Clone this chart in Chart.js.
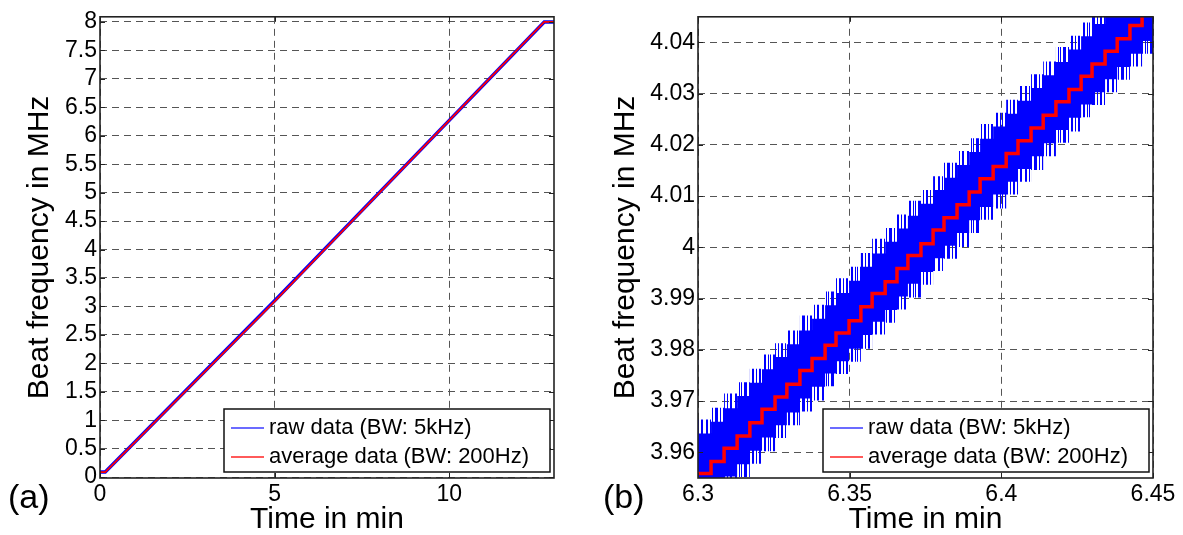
<!DOCTYPE html>
<html>
<head>
<meta charset="utf-8">
<script src="https://cdn.jsdelivr.net/npm/chart.js@4.4.0/dist/chart.umd.min.js"></script>
<style>
body { margin: 0; background: #fff; width: 1183px; height: 535px; overflow: hidden; position: relative; font-family: 'Liberation Sans', Arial, sans-serif; }
#caixaA { position: absolute; left: 0; top: 0; width: 580px; height: 535px; }
#caixaB { position: absolute; left: 590px; top: 0; width: 593px; height: 535px; }
.rotulo { position: absolute; top: 479px; font-size: 34px; line-height: 1; color: #000; }
</style>
</head>
<body>
<div id="caixaA"><canvas id="graficoA" width="580" height="535"></canvas></div>
<div id="caixaB"><canvas id="graficoB" width="593" height="535"></canvas></div>
<div class="rotulo" style="left:8px">(a)</div>
<div class="rotulo" style="left:603px">(b)</div>
<script>
// (a) rampa completa
const tempoA = [0, 0.15, 5, 10, 12.72, 13];
const brutoA = [0.09, 0.09, 3.1, 6.27, 8.0, 8.0];
const mediaA = [0.09, 0.09, 3.09, 6.27, 8.0, 8.0];
const ticksXA = [0, 5, 10];
const ticksYA = [0, 0.5, 1, 1.5, 2, 2.5, 3, 3.5, 4, 4.5, 5, 5.5, 6, 6.5, 7, 7.5, 8];

// (b) detalhe - degraus da media e faixa do dado bruto
const tempoB = [6.3000, 6.3043, 6.3086, 6.3129, 6.3171, 6.3211, 6.3254, 6.3293, 6.3336, 6.3376,
    6.3419, 6.3455, 6.3498, 6.3537, 6.3574, 6.3617, 6.3656, 6.3692, 6.3735, 6.3775,
    6.3811, 6.3854, 6.3894, 6.3930, 6.3973, 6.4016, 6.4055, 6.4098, 6.4138, 6.4180,
    6.4223, 6.4263, 6.4299, 6.4342, 6.4382, 6.4424, 6.4464, 6.4500];
const mediaB = [3.9559, 3.9582, 3.9608, 3.9632, 3.9658, 3.9684, 3.9708, 3.9733, 3.9760, 3.9783,
    3.9809, 3.9833, 3.9857, 3.9884, 3.9910, 3.9933, 3.9959, 3.9984, 4.0007, 4.0034,
    4.0058, 4.0083, 4.0108, 4.0134, 4.0158, 4.0183, 4.0208, 4.0233, 4.0258, 4.0284,
    4.0308, 4.0334, 4.0358, 4.0383, 4.0407, 4.0433, 4.0458, 4.0458];
// faixa densa do dado bruto
const brutoSup = [3.9637, 3.9660, 3.9686, 3.9710, 3.9736, 3.9762, 3.9786, 3.9811, 3.9838, 3.9861,
    3.9887, 3.9911, 3.9935, 3.9962, 3.9988, 4.0011, 4.0037, 4.0062, 4.0085, 4.0112,
    4.0136, 4.0161, 4.0186, 4.0212, 4.0236, 4.0261, 4.0286, 4.0311, 4.0336, 4.0362,
    4.0386, 4.0412, 4.0436, 4.0461, 4.0485, 4.0511, 4.0536, 4.0536];
const brutoInf = [3.9504, 3.9527, 3.9553, 3.9577, 3.9603, 3.9629, 3.9653, 3.9678, 3.9705, 3.9728,
    3.9754, 3.9778, 3.9802, 3.9829, 3.9855, 3.9878, 3.9904, 3.9929, 3.9952, 3.9979,
    4.0003, 4.0028, 4.0053, 4.0079, 4.0103, 4.0128, 4.0153, 4.0178, 4.0203, 4.0229,
    4.0253, 4.0279, 4.0303, 4.0328, 4.0352, 4.0378, 4.0403, 4.0403];
// picos isolados do dado bruto (fora da faixa densa)
const picoSup = [3.9664, 3.9687, 3.9715, 3.9737, 3.9763, 3.9791, 3.9813, 3.9838, 3.9867, 3.9888,
    3.9914, 3.9940, 3.9962, 3.9989, 4.0017, 4.0038, 4.0064, 4.0091, 4.0112, 4.0139,
    4.0165, 4.0188, 4.0213, 4.0241, 4.0263, 4.0288, 4.0315, 4.0338, 4.0363, 4.0391,
    4.0413, 4.0439, 4.0465, 4.0488, 4.0512, 4.0540, 4.0563, 4.0563];
const picoInf = [3.9479, 3.9502, 3.9526, 3.9552, 3.9578, 3.9602, 3.9628, 3.9653, 3.9680, 3.9701,
    3.9729, 3.9753, 3.9777, 3.9802, 3.9830, 3.9853, 3.9879, 3.9902, 3.9927, 3.9954,
    3.9978, 4.0001, 4.0028, 4.0054, 4.0076, 4.0103, 4.0128, 4.0151, 4.0178, 4.0204,
    4.0226, 4.0254, 4.0278, 4.0303, 4.0327, 4.0353, 4.0378, 4.0378];
const ticksXB = [6.3, 6.35, 6.4, 6.45];
const ticksYB = [3.96, 3.97, 3.98, 3.99, 4, 4.01, 4.02, 4.03, 4.04];

const rotuloBruto = 'raw data (BW: 5kHz)';
const rotuloMedia = 'average data (BW: 200Hz)';

Chart.defaults.font.family = "'Liberation Sans', Arial, sans-serif";
Chart.defaults.color = '#000';

function pontos(xs, ys) {
    return xs.map((x, i) => ({ x: x, y: ys[i] }));
}

// listras verticais para imitar os picos do sinal bruto
function listras() {
    const c = document.createElement('canvas');
    c.width = 29; c.height = 8;
    const g = c.getContext('2d');
    g.fillStyle = '#0000ff';
    [[0, 2], [4, 1], [6, 1], [9, 3], [14, 1], [17, 2], [21, 1], [24, 2]].forEach(([x, w]) => g.fillRect(x, 0, w, 8));
    return g.createPattern(c, 'repeat');
}

// caixa do eixo + marcas para dentro (estilo matlab)
const moldura = {
    id: 'moldura',
    afterDatasetsDraw(chart) {
        const { ctx, chartArea: a, scales } = chart;
        ctx.save();
        ctx.strokeStyle = '#222';
        ctx.lineWidth = 1;
        ctx.beginPath();
        scales.x.ticks.forEach(t => {
            const px = Math.round(scales.x.getPixelForValue(t.value)) + 0.5;
            ctx.moveTo(px, a.bottom); ctx.lineTo(px, a.bottom - 5);
            ctx.moveTo(px, a.top); ctx.lineTo(px, a.top + 5);
        });
        scales.y.ticks.forEach(t => {
            const py = Math.round(scales.y.getPixelForValue(t.value)) + 0.5;
            ctx.moveTo(a.left, py); ctx.lineTo(a.left + 5, py);
            ctx.moveTo(a.right, py); ctx.lineTo(a.right - 5, py);
        });
        ctx.stroke();
        ctx.lineWidth = 1.6;
        ctx.strokeRect(a.left, a.top, a.right - a.left, a.bottom - a.top);
        ctx.restore();
    },
    afterDraw(chart) {
        // legenda dentro do grafico, canto inferior direito
        const { ctx, chartArea: a } = chart;
        const itens = chart.data.datasets.filter(d => d.label);
        const larg = 326, alt = 63;
        const x0 = a.right - 4 - larg, y0 = a.bottom - 6 - alt;
        ctx.save();
        ctx.fillStyle = '#fff';
        ctx.fillRect(x0, y0, larg, alt);
        ctx.strokeStyle = '#111';
        ctx.lineWidth = 1.5;
        ctx.strokeRect(x0, y0, larg, alt);
        ctx.font = "22px 'Liberation Sans', Arial, sans-serif";
        ctx.textBaseline = 'middle';
        itens.forEach((d, i) => {
            const y = y0 + 19 + i * 29;
            ctx.strokeStyle = d.corLegenda;
            ctx.lineWidth = 2;
            ctx.beginPath();
            ctx.moveTo(x0 + 7, y); ctx.lineTo(x0 + 40, y);
            ctx.stroke();
            ctx.fillStyle = '#000';
            ctx.fillText(d.label, x0 + 45, y);
        });
        ctx.restore();
    }
};

function eixos(xmin, xmax, ymin, ymax, tx, ty, largY, padTitulo) {
    const grade = { color: '#555', lineWidth: 1, drawTicks: false };
    const borda = { display: false, dash: [7, 5] };
    return {
        x: {
            type: 'linear', min: xmin, max: xmax,
            grid: grade, border: borda,
            afterBuildTicks: s => { s.ticks = tx.map(v => ({ value: v })); },
            afterFit: s => { s.height = 57; },
            ticks: { font: { size: 23 }, padding: 3, maxRotation: 0, autoSkip: false, callback: v => String(v) },
            title: { display: true, text: 'Time in min', font: { size: 30, lineHeight: 1 }, padding: { top: 0, bottom: 0 } }
        },
        y: {
            type: 'linear', min: ymin, max: ymax,
            grid: grade, border: borda,
            afterBuildTicks: s => { s.ticks = ty.map(v => ({ value: v })); },
            afterFit: s => { s.width = largY; },
            ticks: { font: { size: 23 }, padding: 3, autoSkip: false, callback: v => String(v) },
            title: { display: true, text: 'Beat frequency in MHz', font: { size: 30 }, padding: { top: padTitulo, bottom: 0 } }
        }
    };
}

//Grafico (a)
new Chart(document.getElementById('graficoA'), {
    type: 'line',
    data: {
        datasets: [{
            label: rotuloBruto,
            data: pontos(tempoA, brutoA),
            borderColor: '#0000ff',
            corLegenda: '#6b6bff',
            borderWidth: 3.5,
            pointRadius: 0,
            order: 1
        }, {
            label: rotuloMedia,
            data: pontos(tempoA, mediaA),
            borderColor: '#ff0000',
            corLegenda: '#ff5a5a',
            borderWidth: 1.8,
            pointRadius: 0,
            order: 0
        }]
    },
    options: {
        responsive: false,
        animation: false,
        devicePixelRatio: 1,
        layout: { padding: { top: 14, right: 26, left: 0, bottom: 0 } },
        plugins: { legend: { display: false }, tooltip: { enabled: false } },
        scales: eixos(0, 13, -0.015, 8.09, ticksXA, ticksYA, 100, 22)
    },
    plugins: [moldura]
});

//Grafico (b)
new Chart(document.getElementById('graficoB'), {
    type: 'line',
    data: {
        datasets: [{
            label: rotuloBruto,
            data: pontos(tempoB, brutoSup),
            borderColor: '#0000ff',
            backgroundColor: '#0000ff',
            corLegenda: '#6b6bff',
            borderWidth: 0,
            stepped: true,
            fill: '+1',
            pointRadius: 0,
            order: 2
        }, {
            label: '',
            data: pontos(tempoB, brutoInf),
            borderColor: '#0000ff',
            borderWidth: 0,
            stepped: true,
            fill: false,
            pointRadius: 0,
            order: 2
        }, {
            label: '',
            data: pontos(tempoB, picoSup),
            borderColor: '#0000ff',
            backgroundColor: listras(),
            borderWidth: 0,
            stepped: true,
            fill: '+1',
            pointRadius: 0,
            order: 3
        }, {
            label: '',
            data: pontos(tempoB, picoInf),
            borderColor: '#0000ff',
            borderWidth: 0,
            stepped: true,
            fill: false,
            pointRadius: 0,
            order: 3
        }, {
            label: rotuloMedia,
            data: pontos(tempoB, mediaB),
            borderColor: '#ff0000',
            corLegenda: '#ff5a5a',
            borderWidth: 3.5,
            stepped: true,
            pointRadius: 0,
            order: 0
        }]
    },
    options: {
        responsive: false,
        animation: false,
        devicePixelRatio: 1,
        layout: { padding: { top: 14, right: 30, left: 0, bottom: 0 } },
        plugins: { legend: { display: false }, tooltip: { enabled: false } },
        scales: eixos(6.3, 6.45, 3.955, 4.045, ticksXB, ticksYB, 108, 18)
    },
    plugins: [moldura]
});
</script>
</body>
</html>
